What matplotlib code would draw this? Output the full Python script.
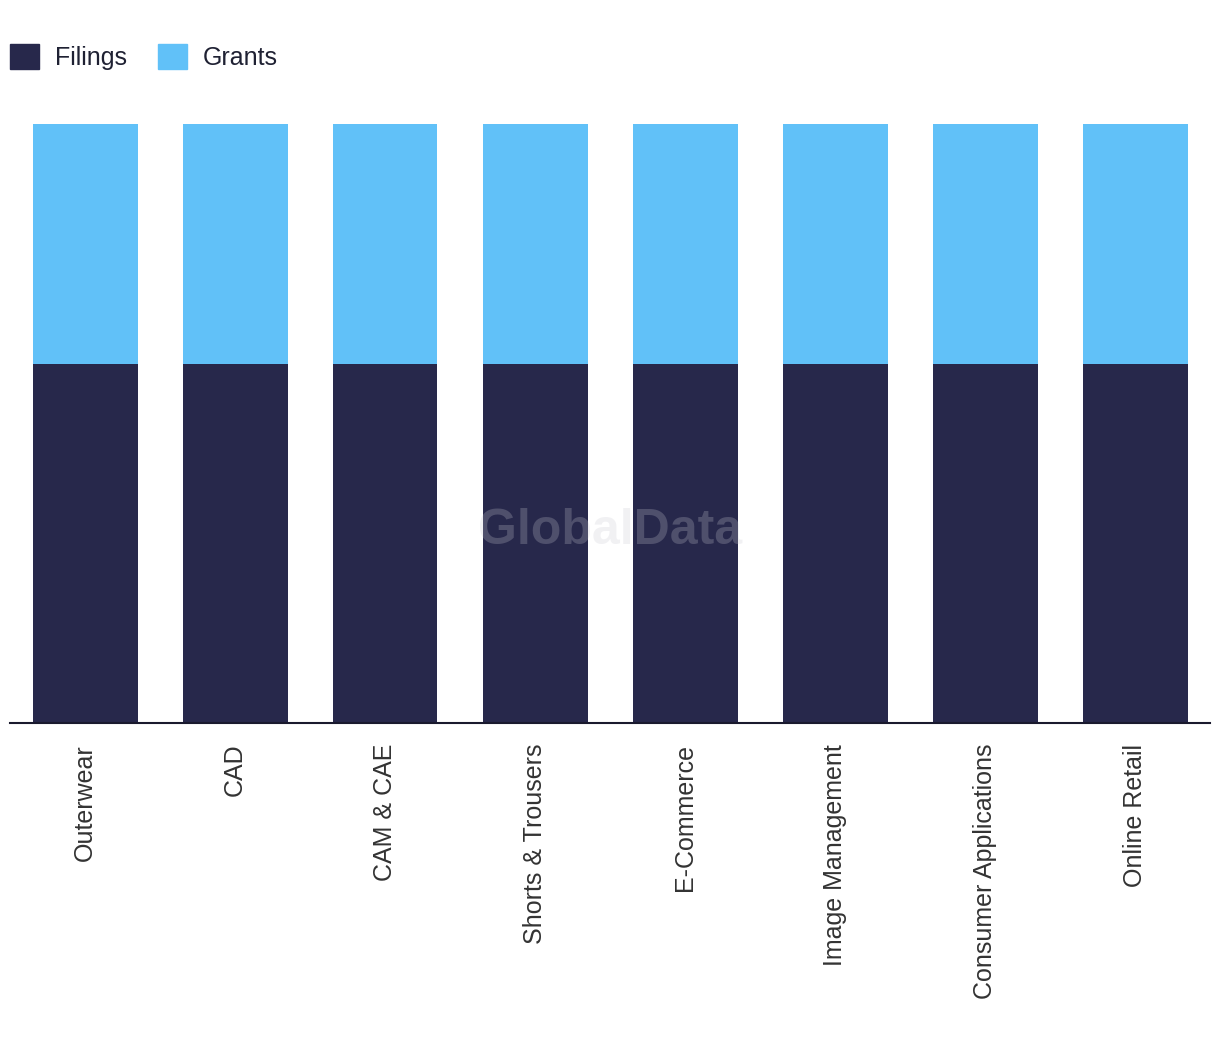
import matplotlib.pyplot as plt
from matplotlib.patches import Patch

categories = ["Outerwear", "CAD", "CAM & CAE", "Shorts & Trousers", "E-Commerce",
              "Image Management", "Consumer Applications", "Online Retail"]
filings = [60, 60, 60, 60, 60, 60, 60, 60]
grants = [40, 40, 40, 40, 40, 40, 40, 40]

FILINGS_COLOR = "#27284b"
GRANTS_COLOR = "#61c1f8"

plt.rcParams['font.family'] = ['Liberation Sans', 'DejaVu Sans']

fig = plt.figure(figsize=(12.2, 10.6), dpi=100)
ax = fig.add_axes([10 / 1220, (1060 - 723) / 1060, 1200 / 1220, (723 - 124) / 1060])

x = range(len(categories))
ax.bar(x, filings, width=0.7, color=FILINGS_COLOR)
ax.bar(x, grants, width=0.7, bottom=filings, color=GRANTS_COLOR)

ax.set_xlim(-0.5, len(categories) - 0.5)
ax.set_ylim(0, 100)
ax.set_xticks(list(x))
ax.set_xticklabels(categories, rotation=90, fontsize=18, color="#333333")
ax.tick_params(axis='x', length=0, pad=15)
ax.set_yticks([])
for side in ["top", "right", "left"]:
    ax.spines[side].set_visible(False)
ax.spines["bottom"].set_color("#1a1a2e")
ax.spines["bottom"].set_linewidth(1.5)

# watermark
ax.text(0.5, 0.32, "GlobalData", transform=ax.transAxes, ha="center", va="center",
        fontsize=36, fontweight="bold", color="#c8c8d2", alpha=0.25, zorder=5)

handles = [Patch(color=FILINGS_COLOR, label="Filings"), Patch(color=GRANTS_COLOR, label="Grants")]
fig.legend(handles=handles, loc="upper left", bbox_to_anchor=(10 / 1220, 1 - 44 / 1060), ncol=2,
           frameon=False, fontsize=18, handlelength=1.15, handleheight=1.15,
           handletextpad=0.65, columnspacing=1.25, borderaxespad=0, borderpad=0,
           labelcolor="#1f2133")

fig.savefig("out.png", dpi=100)
